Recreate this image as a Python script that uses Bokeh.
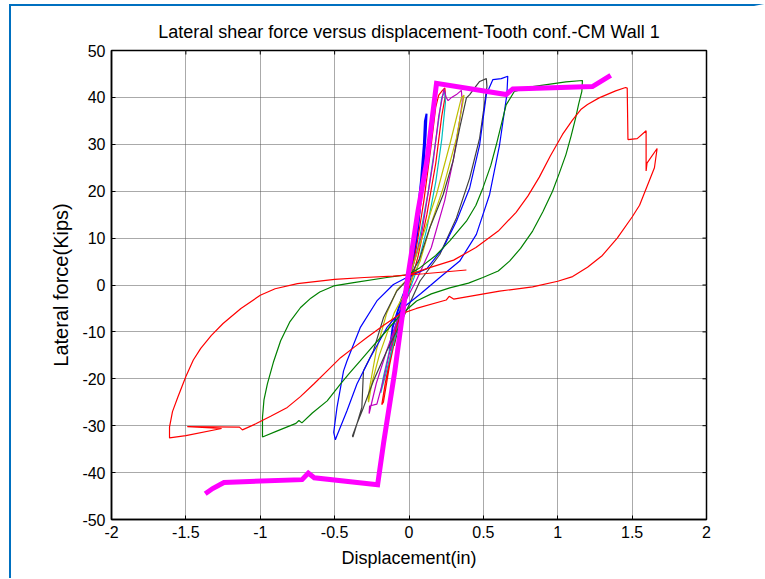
from bokeh.plotting import figure
from bokeh.models import Range1d, FixedTicker, PrintfTickFormatter
from bokeh.embed import file_html
from bokeh.resources import INLINE

title_text = "Lateral shear force versus displacement-Tooth conf.-CM Wall 1"
x_label = "Displacement(in)"
y_label = "Lateral force(Kips)"

x_ticks = [-2, -1.5, -1, -0.5, 0, 0.5, 1, 1.5, 2]
x_tick_labels = ["-2", "-1.5", "-1", "-0.5", "0", "0.5", "1", "1.5", "2"]
y_ticks = [-50, -40, -30, -20, -10, 0, 10, 20, 30, 40, 50]
y_tick_labels = ["-50", "-40", "-30", "-20", "-10", "0", "10", "20", "30", "40", "50"]

# small loops (early cycles)
greensm_x = [0.0, 0.03, 0.06, 0.08, 0.06, 0.02, -0.03, -0.07, -0.1, -0.07, -0.02, 0.0]
greensm_y = [0.5, 7.0, 14.0, 18.0, 12.0, 3.0, -4.0, -9.0, -13.0, -8.0, -2.0, 0.5]

bluesm_x = [0.0, 0.04, 0.08, 0.1, 0.107, 0.118, 0.112, 0.09, 0.06, 0.03, 0.0, -0.05, -0.1, -0.13, -0.11, -0.05, 0.0]
bluesm_y = [1.0, 10.0, 22.0, 30.0, 34.9, 36.5, 32.0, 22.0, 12.0, 5.0, 0.0, -5.0, -10.0, -14.0, -9.0, -3.0, 1.0]

reds_x = [0.0, 0.05, 0.1, 0.15, 0.18, 0.2, 0.225, 0.241, 0.245, 0.22, 0.18, 0.12, 0.06, 0.0, -0.07, -0.13, -0.172, -0.183, -0.16, -0.1, -0.05, 0.0]
reds_y = [0.5, 8.0, 18.0, 30.0, 38.0, 40.5, 41.5, 42.0, 40.5, 36.0, 26.0, 15.0, 6.0, -1.0, -8.0, -17.0, -25.0, -25.5, -21.0, -11.0, -4.0, 1.0]

cyan_x = [0.0, 0.06, 0.13, 0.19, 0.22, 0.24, 0.245, 0.22, 0.18, 0.12, 0.05, -0.03, -0.1, -0.16, -0.19, -0.175, -0.11, -0.05, 0.0]
cyan_y = [1.0, 8.0, 20.0, 33.0, 40.0, 41.2, 39.0, 31.0, 22.0, 12.0, 3.0, -4.0, -12.0, -19.5, -23.0, -20.0, -11.0, -4.0, 0.8]

mag_x = [0.0, 0.08, 0.163, 0.2, 0.235, 0.25, 0.263, 0.286, 0.319, 0.352, 0.358, 0.34, 0.3, 0.24, 0.15, 0.05, -0.05, -0.15, -0.22, -0.268, -0.265, -0.216, -0.17, -0.1, -0.04, 0.0]
mag_y = [1.0, 10.0, 26.4, 36.0, 41.8, 40.0, 39.3, 40.0, 40.6, 41.5, 39.0, 35.0, 27.0, 18.0, 8.0, 1.0, -5.0, -14.0, -21.0, -27.4, -25.8, -25.4, -20.0, -10.0, -3.0, 0.5]

yellow_x = [0.0, 0.074, 0.185, 0.274, 0.352, 0.37, 0.363, 0.319, 0.23, 0.14, 0.074, 0.0, -0.1, -0.2, -0.25, -0.272, -0.275, -0.26, -0.22, -0.15, -0.08, 0.0]
yellow_y = [1.5, 8.7, 19.3, 29.9, 39.9, 40.5, 39.1, 31.3, 20.7, 12.2, 5.0, 0.0, -6.0, -15.0, -21.0, -25.0, -24.0, -21.0, -14.0, -6.0, -1.0, 1.5]

black_x = [0.0, 0.07, 0.14, 0.23, 0.296, 0.341, 0.386, 0.408, 0.453, 0.475, 0.52, 0.524, 0.475, 0.408, 0.319, 0.207, 0.074, -0.06, -0.149, -0.239, -0.306, -0.35, -0.38, -0.377, -0.35, -0.317, -0.306, -0.239, -0.172, -0.082, 0.0]
black_y = [1.5, 5.5, 12.2, 19.3, 26.4, 33.5, 39.9, 40.6, 42.5, 43.4, 44.0, 42.3, 31.3, 22.8, 14.3, 6.5, 0.85, -8.4, -14.0, -20.4, -26.1, -29.6, -32.2, -32.4, -29.6, -26.1, -18.3, -14.0, -7.0, -1.3, 1.5]

blue_x = [0.0, 0.12, 0.23, 0.319, 0.408, 0.475, 0.52, 0.564, 0.62, 0.664, 0.658, 0.609, 0.542, 0.453, 0.341, 0.207, 0.08, -0.038, -0.149, -0.261, -0.35, -0.417, -0.484, -0.495, -0.506, -0.484, -0.44, -0.417, -0.328, -0.216, -0.105, -0.015]
blue_y = [1.8, 3.5, 7.9, 13.6, 20.7, 29.9, 40.6, 43.8, 44.0, 44.5, 40.6, 29.9, 19.3, 10.8, 5.1, 1.6, -1.8, -4.8, -9.1, -15.5, -21.1, -26.8, -32.1, -33.0, -31.4, -26.1, -18.3, -16.2, -9.1, -3.4, 0.1, 1.6]

green_x = [0.0, 0.074, 0.18, 0.274, 0.386, 0.45, 0.497, 0.55, 0.587, 0.653, 0.709, 0.831, 1.055, 1.166, 1.162, 1.14, 1.12, 1.09, 1.055, 1.01, 0.965, 0.9, 0.831, 0.75, 0.676, 0.6, 0.497, 0.4, 0.274, 0.15, 0.051, -0.06, -0.172, -0.25, -0.328, -0.4, -0.46, -0.55, -0.65, -0.72, -0.74, -0.76, -0.885, -0.985, -0.985, -0.975, -0.952, -0.91, -0.863, -0.8, -0.729, -0.66, -0.6, -0.506, -0.372, -0.149, 0.02]
green_y = [2.3, 3.7, 6.3, 9.4, 13.6, 17.0, 20.7, 25.5, 29.9, 38.4, 41.3, 42.3, 43.3, 43.6, 41.3, 38.5, 35.6, 31.8, 27.8, 23.8, 20.0, 15.6, 11.5, 7.8, 5.1, 3.0, 1.6, 0.4, -0.6, -1.9, -3.4, -6.5, -10.5, -13.3, -16.2, -18.8, -21.1, -24.7, -27.3, -29.4, -28.9, -29.5, -31.1, -32.4, -28.2, -24.5, -21.1, -16.3, -11.9, -7.8, -4.8, -2.8, -1.5, -0.2, 0.5, 1.6, 2.3]

red_x = [0.0, 0.15, 0.3, 0.45, 0.6, 0.72, 0.8, 0.876, 0.95, 1.032, 1.1, 1.155, 1.2, 1.278, 1.389, 1.456, 1.467, 1.472, 1.534, 1.594, 1.594, 1.6, 1.668, 1.65, 1.6, 1.55, 1.5, 1.4, 1.3, 1.2, 1.1, 1.0, 0.831, 0.609, 0.30, 0.27, 0.25, 0.05, -0.06, -0.17, -0.283, -0.37, -0.46, -0.55, -0.64, -0.73, -0.818, -0.93, -1.03, -1.12, -1.14, -1.49, -1.26, -1.5, -1.61, -1.61, -1.59, -1.555, -1.5, -1.45, -1.4, -1.33, -1.25, -1.13, -1.0, -0.9, -0.75, -0.5, -0.3, -0.107, 0.1, 0.386]
red_y = [2.2, 3.8, 5.3, 8.0, 11.5, 15.5, 19.0, 23.0, 27.5, 32.1, 35.2, 37.4, 38.5, 39.9, 41.4, 42.1, 42.0, 31.0, 31.2, 32.9, 24.3, 26.0, 29.1, 25.0, 21.0, 17.0, 14.5, 10.0, 6.3, 3.8, 1.8, 0.8, -0.4, -1.3, -3.0, -2.4, -3.2, -5.0, -6.2, -8.6, -11.2, -13.3, -15.5, -18.3, -21.1, -23.8, -26.1, -28.0, -29.6, -30.9, -30.3, -30.2, -30.6, -32.1, -32.6, -30.3, -27.0, -24.0, -19.5, -16.0, -13.5, -10.8, -8.2, -5.0, -2.2, -0.8, 0.3, 1.2, 1.6, 1.9, 2.4, 3.2]

env_x = [-1.37, -1.32, -1.244, -0.719, -0.677, -0.637, -0.211, -0.17, -0.095, -0.05, -0.005, 0.06, 0.12, 0.185, 0.653, 0.698, 1.233, 1.356]
env_y = [-44.5, -43.4, -42.1, -41.5, -40.1, -41.1, -42.6, -33.5, -18.3, -7.7, 2.3, 15.7, 26.4, 43.0, 40.6, 41.8, 42.3, 44.7]

series = [
    (greensm_x, greensm_y, "#008000", 1.2),
    (bluesm_x, bluesm_y, "#0000FF", 2.0),
    (reds_x, reds_y, "#FF0000", 1.2),
    (cyan_x, cyan_y, "#00BFBF", 1.2),
    (mag_x, mag_y, "#BF00BF", 1.2),
    (yellow_x, yellow_y, "#BFBF00", 1.2),
    (black_x, black_y, "#404040", 1.2),
    (blue_x, blue_y, "#0000FF", 1.2),
    (green_x, green_y, "#008000", 1.2),
    (red_x, red_y, "#FF0000", 1.2),
]

FONT = "Liberation Sans"

p = figure(frame_width=595, frame_height=469,
           x_range=Range1d(-2, 2), y_range=Range1d(-50, 50),
           output_backend="svg", toolbar_location=None,
           min_border_left=100, min_border_right=48,
           min_border_top=44, min_border_bottom=59,
           title=title_text)
p.styles = {"margin-top": "4px", "margin-left": "9px",
            "border-top": "2px solid #0070C0", "border-left": "2px solid #0070C0",
            "border-right": "10px solid white", "border-bottom": "0px none",
            "outline": "none", "box-shadow": "none"}
p.background_fill_color = "white"
p.border_fill_color = "white"
p.outline_line_color = "black"
p.outline_line_width = 1.5

p.title.align = "center"
p.title.text_font = FONT
p.title.text_font_size = "18px"
p.title.text_font_style = "normal"
p.title.text_color = "black"
p.title.standoff = 17

for ax, ticks, labels in ((p.xaxis[0], x_ticks, x_tick_labels), (p.yaxis[0], y_ticks, y_tick_labels)):
    ax.ticker = FixedTicker(ticks=ticks)
    ax.formatter = PrintfTickFormatter(format="%g")
    ax.major_label_overrides = {t: l for t, l in zip(ticks, labels)}
    ax.major_tick_in = 4
    ax.major_tick_out = 0
    ax.minor_tick_line_color = None
    ax.major_label_text_font = FONT
    ax.major_label_text_font_size = "16px"
    ax.major_label_text_color = "black"
    ax.axis_line_color = "black"
    ax.axis_line_width = 1.5
    ax.major_tick_line_color = "black"
    ax.axis_label_text_font = FONT
    ax.axis_label_text_font_size = "18px"
    ax.axis_label_text_font_style = "normal"
    ax.axis_label_text_color = "black"
    ax.major_label_standoff = 6

p.xaxis.axis_label = x_label
p.yaxis.axis_label = y_label
p.yaxis.axis_label_text_font_size = "20px"
p.xaxis.axis_label_standoff = 7
p.yaxis.axis_label_standoff = 7

for g, ticks in ((p.xgrid[0], x_ticks), (p.ygrid[0], y_ticks)):
    g.ticker = FixedTicker(ticks=ticks)
    g.grid_line_color = "#555555"
    g.grid_line_dash = "1 1"
    g.grid_line_width = 1

# inward ticks on the top and right edges of the box (4 px long)
tx = 4 * 4.0 / 595
ty = 4 * 100.0 / 469
p.segment(x0=x_ticks, y0=[50] * len(x_ticks), x1=x_ticks, y1=[50 - ty] * len(x_ticks),
          line_color="black", line_width=1)
p.segment(x0=[2] * len(y_ticks), y0=y_ticks, x1=[2 - tx] * len(y_ticks), y1=y_ticks,
          line_color="black", line_width=1)

for xs, ys, col, w in series:
    p.line(xs, ys, line_color=col, line_width=w)

p.line(env_x, env_y, line_color="#FF00FF", line_width=5, line_join="miter")

open("out.html", "w").write(file_html(p, INLINE))
